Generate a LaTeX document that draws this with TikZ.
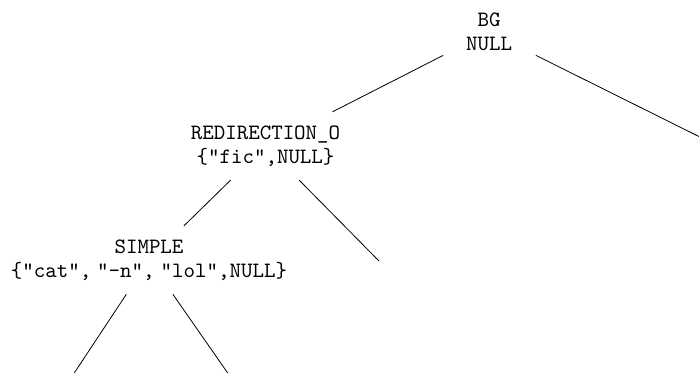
\documentclass[tikz,border=0pt]{standalone}
\begin{document}
\begin{tikzpicture}[x=0.5pt,y=-0.5pt,
  tn/.style={align=center,inner sep=6.75pt,font=\ttfamily\fontsize{10.95}{12}\selectfont},
  edge/.style={line width=0.4pt}]
\clip (0,0) rectangle (699,372);
\node[tn,inner ysep=2pt,inner xsep=13pt] (bg) at (489,32) {BG\\NULL};
\node[tn] (redir) at (265.5,146) {REDIRECTION\_O\\\{"fic",NULL\}};
\node[tn] (simple) at (149,260) {SIMPLE\\\{"cat",\hspace{3pt}"-n",\hspace{3pt}"lol",NULL\}};
\coordinate (bgr) at (718,146);
\coordinate (redirr) at (379,261);
\coordinate (sl) at (71.6,377);
\coordinate (sr) at (230.5,377);
\draw[edge] (bg) -- (redir);
\draw[edge] (bg) -- (bgr);
\draw[edge] (redir) -- (simple);
\draw[edge] (redir) -- (redirr);
\draw[edge] (simple) -- (sl);
\draw[edge] (simple) -- (sr);
\end{tikzpicture}
\end{document}
